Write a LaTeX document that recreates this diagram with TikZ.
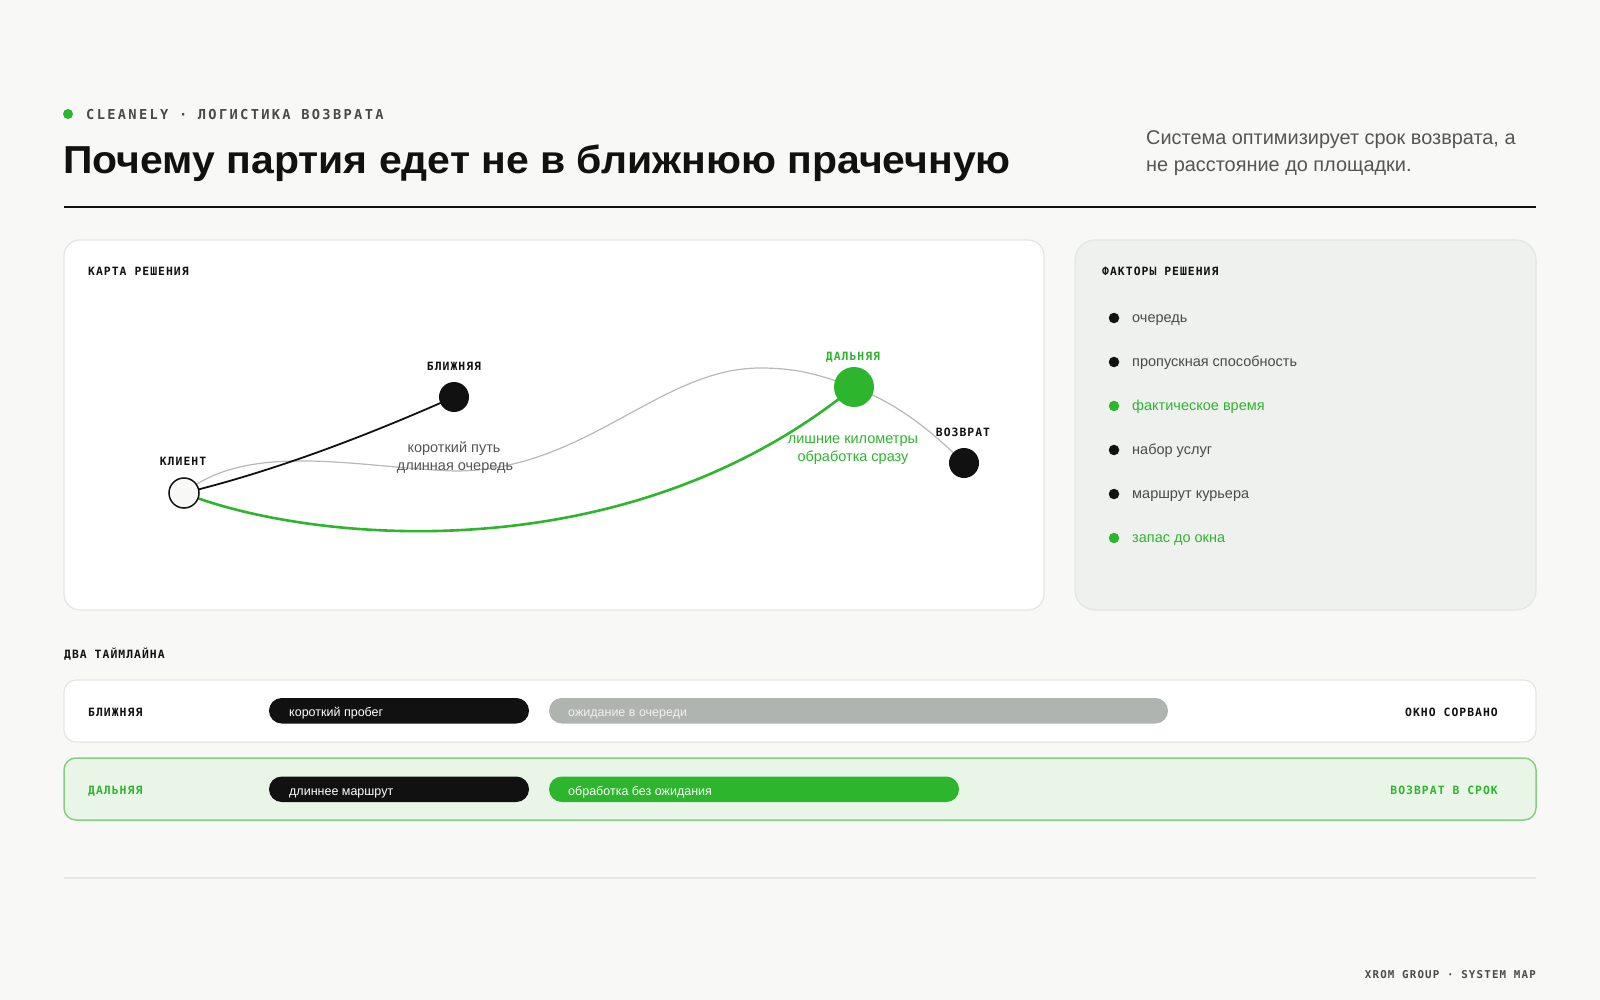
\documentclass[tikz,border=0pt]{standalone}
\usepackage{fontspec}
\setmainfont{Liberation Sans}
\newfontfamily\monof[LetterSpace=9]{DejaVu Sans Mono}
\newfontfamily\monoh[LetterSpace=17]{DejaVu Sans Mono}
\newfontfamily\monoft[LetterSpace=11]{DejaVu Sans Mono}
\newfontfamily\titlef[FakeStretch=1.05]{Liberation Sans}
\definecolor{bgc}{HTML}{F8F8F6}
\definecolor{ink}{HTML}{111111}
\definecolor{grn}{HTML}{2EB52E}
\definecolor{txtg}{HTML}{555555}
\definecolor{lineg}{HTML}{B8B8B8}
\definecolor{cardb}{HTML}{E5E6E3}
\definecolor{panel}{HTML}{EFF1EE}
\definecolor{pillg}{HTML}{B0B4B0}
\definecolor{rowg}{HTML}{E9F6E7}
\definecolor{rowgb}{HTML}{86CF82}
\definecolor{hdr}{HTML}{4A4A4A}
\definecolor{rulec}{HTML}{E6E6E4}
\pgfdeclarelayer{back}
\pgfdeclarelayer{edges}
\pgfsetlayers{back,edges,main}
\tikzset{
  lab/.style={inner sep=0, font=\monof\bfseries\fontsize{11.4}{13}\selectfont, text=ink},
  body/.style={inner sep=0, font=\fontsize{14.5}{18}\selectfont, text=txtg},
  pilltxt/.style={inner sep=0, font=\fontsize{12.5}{14}\selectfont, text=white, anchor=base west},
  dotn/.style={circle, inner sep=0, minimum size=10.5, fill=ink},
  mapnode/.style={circle, inner sep=0, minimum size=30},
}
\begin{document}
\begin{tikzpicture}[x=1pt,y=-1pt]
\begin{pgfonlayer}{back}
  \fill[bgc] (0,0) rectangle (1600,1000);
  % cards
  \draw[fill=white, draw=cardb, line width=1.2, rounded corners=16] (64,240) rectangle (1044,610);
  \draw[fill=panel, draw=cardb, line width=1.2, rounded corners=20] (1075,240) rectangle (1536,610);
  % timeline rows
  \draw[fill=white, draw=cardb, line width=1.2, rounded corners=12] (64,680) rectangle (1536,742);
  \draw[fill=rowg, draw=rowgb, line width=1.5, rounded corners=12] (64,758) rectangle (1536,820);
  % rules
  \draw[ink, line width=1.2] (64,207) -- (1536,207);
  \draw[rulec, line width=2] (64,878) -- (1536,878);
\end{pgfonlayer}
\useasboundingbox (0,0) rectangle (1600,1000);

% header
\node[circle, inner sep=0, minimum size=10, fill=grn] (hdot) at (68,114) {};
\node[inner sep=0, anchor=base west, text=hdr, font=\monoh\bfseries\fontsize{13.7}{16}\selectfont] (htxt) at (86,119.3) {CLEANELY · ЛОГИСТИКА ВОЗВРАТА};
\node[inner sep=0, anchor=base west, text=ink, font=\titlef\bfseries\fontsize{39}{44}\selectfont] (title) at (63,174) {Почему партия едет не в ближнюю прачечную};
\node[inner sep=0, anchor=base west, text=txtg, font=\fontsize{19.9}{22}\selectfont] (sub1) at (1146,145) {Система оптимизирует срок возврата, а};
\node[inner sep=0, anchor=base west, text=txtg, font=\fontsize{19.9}{22}\selectfont] (sub2) at (1146,171.5) {не расстояние до площадки.};

% map card
\node[lab, anchor=base west] (maptitle) at (88,275.2) {КАРТА РЕШЕНИЯ};
\node[mapnode, draw=ink, line width=1.5, fill=bgc] (cli) at (184,493) {};
\node[mapnode, fill=ink] (bli) at (454,397) {};
\node[mapnode, minimum size=40, fill=grn] (dal) at (854,387) {};
\node[mapnode, fill=ink] (voz) at (964,463) {};
\node[lab, anchor=base] (clilab) at (183,465.2) {КЛИЕНТ};
\node[lab, anchor=base] (blilab) at (454,370.2) {БЛИЖНЯЯ};
\node[lab, anchor=base, text=grn] (dallab) at (853,360.2) {ДАЛЬНЯЯ};
\node[lab, anchor=base] (vozlab) at (963,436.2) {ВОЗВРАТ};
\node[body, anchor=base] (k1) at (454,452) {короткий путь};
\node[body, anchor=base] (k2) at (455,470) {длинная очередь};
\node[body, anchor=base, text=grn] (g1) at (853,443) {лишние километры};
\node[body, anchor=base, text=grn] (g2) at (853,461) {обработка сразу};

\begin{pgfonlayer}{edges}
  \draw[lineg, line width=1.2] (cli.center) .. controls (250,440) and (360,468) .. (455,471)
     .. controls (585,471) and (660,368) .. (760,368)
     .. controls (800,368) and (822,376) .. (dal.center)
     .. controls (900,405) and (930,430) .. (voz.center);
  \draw[grn, line width=2.6] (cli.center) .. controls (300,540) and (620,578) .. (dal.center);
  \draw[ink, line width=1.8] (cli.center) .. controls (280,470) and (380,430) .. (bli.center);
\end{pgfonlayer}

% factors
\node[lab, anchor=base west] (factitle) at (1102,275.2) {ФАКТОРЫ РЕШЕНИЯ};
\node[dotn] (d1) at (1114,318) {};
\node[dotn] (d2) at (1114,362) {};
\node[dotn, fill=grn] (d3) at (1114,406) {};
\node[dotn] (d4) at (1114,450) {};
\node[dotn] (d5) at (1114,494) {};
\node[dotn, fill=grn] (d6) at (1114,538) {};
\node[body, anchor=base west, text=hdr] (f1) at (1132,322.5) {очередь};
\node[body, anchor=base west, text=hdr] (f2) at (1132,366.5) {пропускная способность};
\node[body, anchor=base west, text=grn] (f3) at (1132,410.5) {фактическое время};
\node[body, anchor=base west, text=hdr] (f4) at (1132,454.5) {набор услуг};
\node[body, anchor=base west, text=hdr] (f5) at (1132,498.5) {маршрут курьера};
\node[body, anchor=base west, text=grn] (f6) at (1132,542.5) {запас до окна};

% timelines
\node[lab, anchor=base west] (tltitle) at (64,658.2) {ДВА ТАЙМЛАЙНА};
\node[lab, anchor=base west] (r1lab) at (88,716.9) {БЛИЖНЯЯ};
\node[lab, anchor=base west, text=grn] (r2lab) at (88,794.9) {ДАЛЬНЯЯ};
\fill[ink, rounded corners=12.7] (269,698) rectangle (529,723.5);
\fill[pillg, rounded corners=12.7] (549,698) rectangle (1168,723.5);
\fill[ink, rounded corners=12.7] (269,776.5) rectangle (529,802);
\fill[grn, rounded corners=12.7] (549,776.5) rectangle (959,802);
\node[pilltxt] (p1) at (289,716.5) {короткий пробег};
\node[pilltxt, text=white!94!black] (p2) at (568,716.5) {ожидание в очереди};
\node[pilltxt] (p3) at (289,795) {длиннее маршрут};
\node[pilltxt] (p4) at (568,795) {обработка без ожидания};
\node[lab, anchor=base east] (r1end) at (1498,716.9) {ОКНО СОРВАНО};
\node[lab, anchor=base east, text=grn] (r2end) at (1498,794.9) {ВОЗВРАТ В СРОК};

% footer
\node[inner sep=0, anchor=base east, text=hdr, font=\monoft\bfseries\fontsize{10.8}{12}\selectfont] (foot) at (1536,978) {XROM GROUP · SYSTEM MAP};
\end{tikzpicture}
\end{document}
